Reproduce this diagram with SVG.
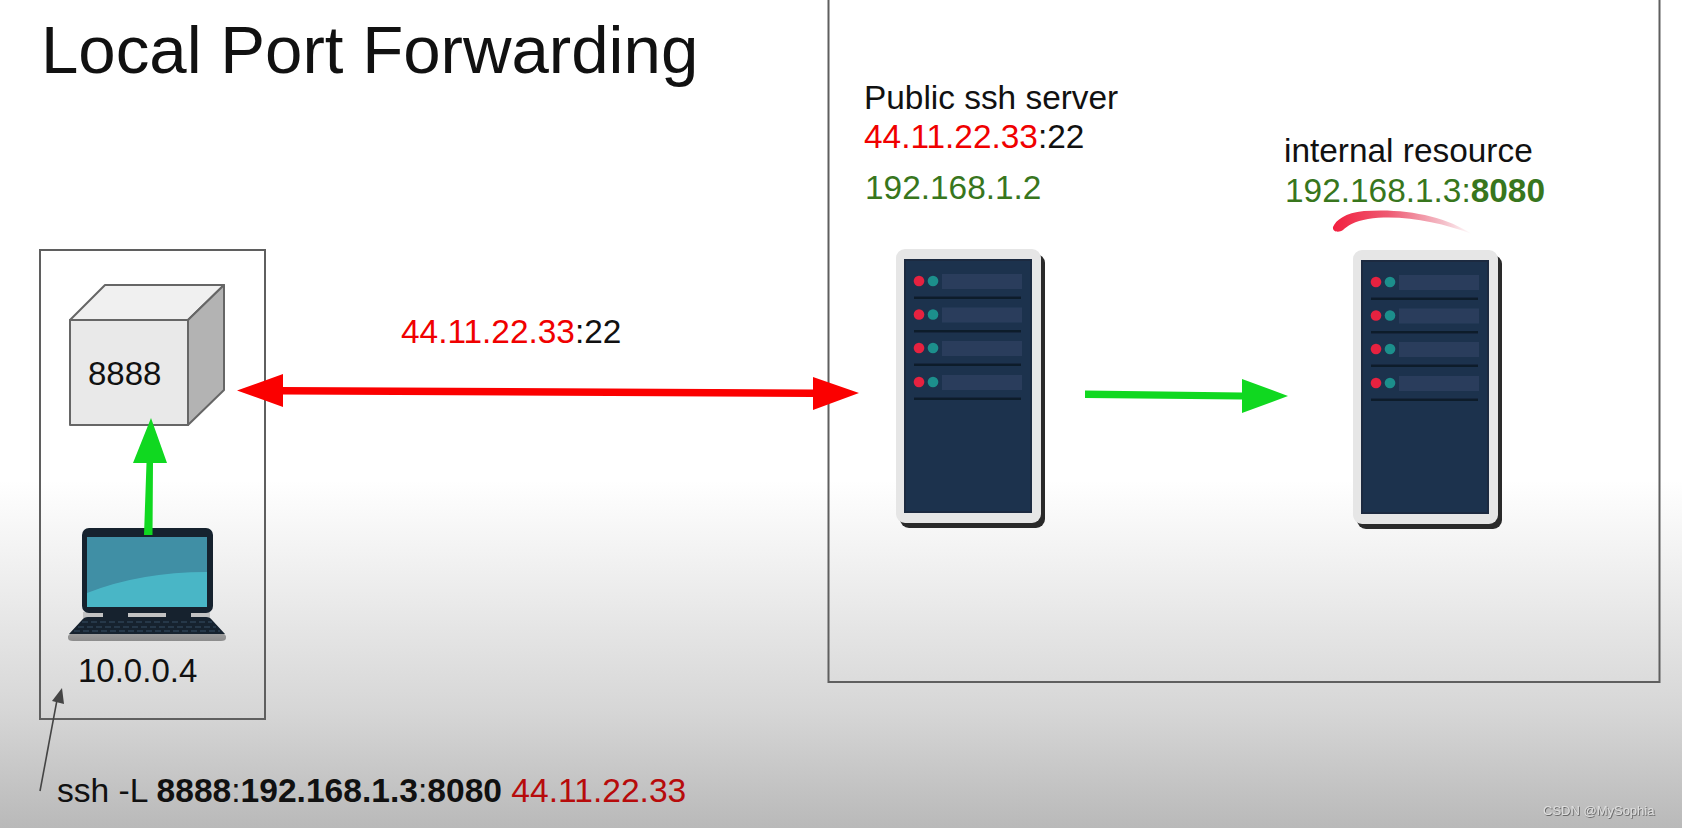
<svg xmlns="http://www.w3.org/2000/svg" width="1682" height="828" viewBox="0 0 1682 828">
<style>
text{font-family:"Liberation Sans",Arial,sans-serif;font-size:33.400px;fill:#111}
.red{fill:#f00000}.dred{fill:#b70b0b}.grn{fill:#38761d}.b{font-weight:700}
.box{fill:none;stroke:#5f5f5f;stroke-width:2}
.cube{stroke:#666;stroke-width:2;stroke-linejoin:round}
.ga{fill:#10d820;stroke:none}.ra{fill:#fb0000;stroke:none}
.soft{filter:url(#soft)}
</style>
<defs>
<filter id="soft" x="-5%" y="-5%" width="110%" height="110%"><feGaussianBlur stdDeviation="0.7"/></filter>
<filter id="wm" x="-5%" y="-20%" width="110%" height="140%"><feDropShadow dx="0.8" dy="0.8" stdDeviation="0.5" flood-color="#555"/></filter>
<linearGradient id="bg" x1="0" y1="0" x2="0" y2="1"><stop offset="0" stop-color="#fff"/><stop offset="0.58" stop-color="#fff"/><stop offset="0.72" stop-color="#ebebeb"/><stop offset="0.86" stop-color="#d6d6d6"/><stop offset="1" stop-color="#b9b9b9"/></linearGradient>
<linearGradient id="stk" x1="0" y1="0" x2="1" y2="0"><stop offset="0" stop-color="#f2203f"/><stop offset="0.4" stop-color="#ee5a72"/><stop offset="0.8" stop-color="#f4c0ca"/><stop offset="1" stop-color="#fff"/></linearGradient>
<linearGradient id="base" x1="0" y1="0" x2="0" y2="1"><stop offset="0" stop-color="#c4c4c4"/><stop offset="1" stop-color="#8c8c8c"/></linearGradient>
<g id="rackrow">
<circle cx="919" cy="281" r="5.300" fill="#e6203f"/><circle cx="933" cy="281" r="5.300" fill="#1f8f8c"/>
<rect x="942" y="274" width="80" height="15" fill="#2a3e5c"/>
<rect x="914" y="296.500" width="107" height="2.500" fill="#0f1c2c"/>
</g>
<g id="server">
<rect x="900" y="254" width="145" height="274" rx="9" fill="#2a2a2a"/>
<rect x="896" y="249" width="145" height="274" rx="9" fill="#e6e6e6"/>
<rect x="905" y="260" width="126" height="252" fill="#1f334d" stroke="#1a2b41" stroke-width="2"/>
<use href="#rackrow"/><use href="#rackrow" y="33.500"/><use href="#rackrow" y="67"/><use href="#rackrow" y="101"/>
</g>
</defs>
<rect id="background" width="1682" height="828" fill="url(#bg)"/>
<text id="title" x="41" y="73" style="font-size:67.200px">Local Port Forwarding</text>

<g id="client-host">
<rect class="box" x="40" y="250" width="225" height="469"/>
</g>
<g id="port-8888">
<path class="cube" d="M70 320L105 285H224L188 320Z" fill="#f0f0f0"/>
<path class="cube" d="M188 320L224 285V390L188 425Z" fill="#b3b3b3"/>
<rect class="cube" x="70" y="320" width="118" height="105" fill="#e9e9e9"/>
<text x="88" y="385" style="font-size:33px">8888</text>
</g>
<g id="laptop">
<g class="soft">
<rect x="83" y="612" width="127" height="6" fill="#c2c2c2"/>
<rect x="103" y="612" width="25" height="5" fill="#14212e"/><rect x="166" y="612" width="25" height="5" fill="#14212e"/>
<path d="M68 636L82 620Q84 617 88 617H206Q210 617 212 620L226 636V638Q226 641 221 641H73Q68 641 68 638Z" fill="url(#base)"/>
<path d="M69 634L82 620Q84 617 88 617H206Q210 617 212 620L225 634Z" fill="#15222f"/>
<path d="M82 622H212M78 627H216M74 631H220" stroke="#2e4154" stroke-width="1.500" stroke-dasharray="6 3"/>
<rect x="82" y="528" width="131" height="85" rx="7" fill="#14212e"/>
<rect x="87" y="537" width="120" height="70" fill="#3f8fa5"/>
<path d="M87 593Q140 572 207 572V607H87Z" fill="#4ab6c6"/>
</g>
<text x="78" y="682" style="font-size:33px">10.0.0.4</text>
</g>
<g id="network-box">
<rect class="box" x="828.500" y="-10" width="831" height="692"/>
</g>
<g id="ssh-server">
<use href="#server" class="soft"/>
<text x="864" y="109">Public ssh server</text>
<text x="864" y="148"><tspan class="red">44.11.22.33</tspan>:22</text>
<text x="865" y="199" class="grn">192.168.1.2</text>
</g>
<g id="internal-resource">
<use href="#server" x="457" y="1" class="soft"/>
<text x="1284" y="162">internal resource</text>
<text x="1285" y="202" class="grn">192.168.1.3:<tspan class="b">8080</tspan></text>
<path d="M1333 227C1336 220 1345 213 1364 211C1405 208 1445 216 1472 234C1440 222 1400 214 1368 219C1355 221 1347 226 1343 230C1339 233 1332 232 1333 227Z" fill="url(#stk)"/>
</g>
<g id="connectors">
<path class="ga" d="M144 535L146.500 463H133L151 418L167 463H153L152.500 535Z"/>
<path class="ra" d="M237 390.500L283 374V387L813 389.500V377L859 393L813 410V397L283 394.500V407Z"/>
<path class="ga" d="M1085 390.500L1242 392.500V379L1288 396L1242 413V399.500L1085 398Z"/>
<path d="M40 791L57 700" stroke="#444" stroke-width="1.600" fill="none"/>
<path d="M62 688L64 704L52 701Z" fill="#444"/>
</g>
<text id="label-tunnel" x="401" y="343"><tspan class="red">44.11.22.33</tspan>:22</text>
<text id="command" x="57" y="802" style="font-size:33.600px">ssh -L <tspan class="b">8888</tspan>:<tspan class="b">192.168.1.3</tspan>:<tspan class="b">8080</tspan> <tspan class="dred">44.11.22.33</tspan></text>
<text id="watermark" x="1543" y="815" filter="url(#wm)" style="font-size:13px;fill:#dedede">CSDN @MySophia</text>
</svg>
